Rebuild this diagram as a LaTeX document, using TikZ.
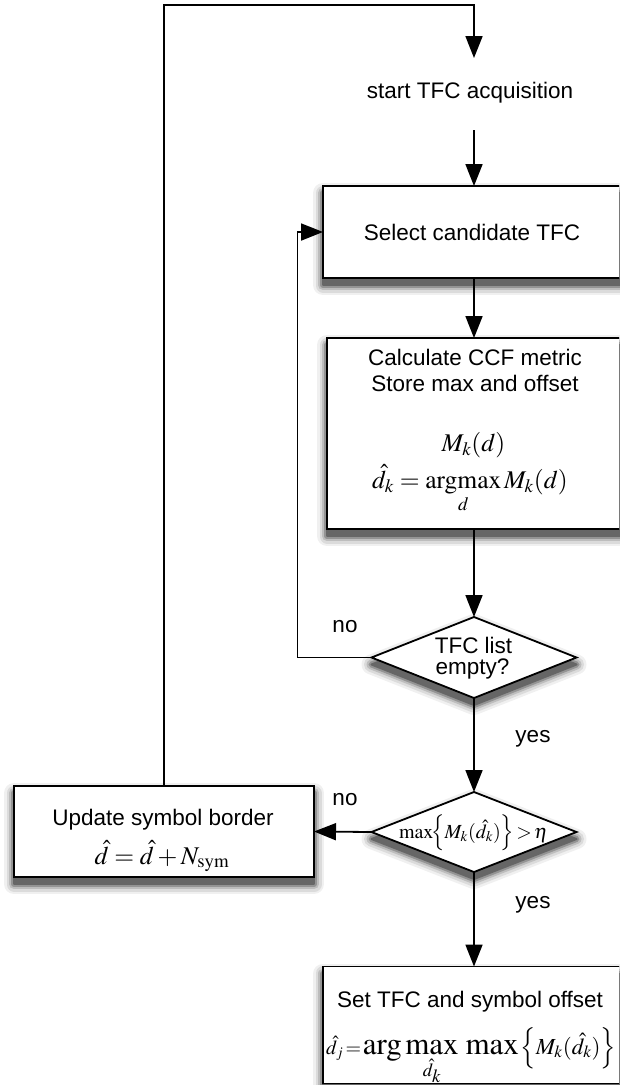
\documentclass[tikz,border=0pt]{standalone}
\usepackage{amsmath}
\usepackage{mathptmx}
\usepackage[no-math]{fontspec}
\setmainfont{Liberation Sans}
\usetikzlibrary{arrows.meta,shapes.geometric,backgrounds}

% soft drop shadow under a node, built from layered grey outlines
\newcommand\boxshadow[1]{%
  \begin{pgfonlayer}{background}
  \foreach \w/\c in {20/6,15/14,10/26,6/42,2/60}{
    \filldraw[black!\c, line width=\w pt, line join=round]
      ([yshift=-7pt]#1.south west) rectangle ([yshift=-7pt]#1.north east);
  }
  \end{pgfonlayer}}
\newcommand\diamondshadow[1]{%
  \begin{pgfonlayer}{background}
  \foreach \w/\c in {20/6,15/14,10/26,6/42,2/60}{
    \filldraw[black!\c, line width=\w pt, line join=round]
      ([yshift=-7pt]#1.north) -- ([yshift=-7pt]#1.east) --
      ([yshift=-7pt]#1.south) -- ([yshift=-7pt]#1.west) -- cycle;
  }
  \end{pgfonlayer}}

\begin{document}
\begin{tikzpicture}[x=1pt,y=-1pt,
  every node/.style={inner sep=0pt, outer sep=0pt},
  txt/.style={font=\fontsize{22.5}{26}\selectfont, anchor=base},
  mth/.style={font=\fontsize{25.5}{30}\selectfont, anchor=base},
  stepbox/.style={draw, line width=1.8pt, fill=white, rectangle},
  decision/.style={draw, line width=1.8pt, fill=white, diamond},
  flow/.style={line width=1.8pt, -{Triangle[length=22pt,width=17pt]}},
]
\useasboundingbox (0,0) rectangle (619,1085);
\clip (0,0) rectangle (619,1085);

% process boxes and decisions
\node[stepbox, minimum width=302pt, minimum height=92pt] (select) at (474,232) {};
\node[stepbox, minimum width=294pt, minimum height=191pt] (calc) at (474,433.5) {};
\node[decision, minimum width=205pt, minimum height=81pt] (dec1) at (474,657.5) {};
\node[decision, minimum width=205pt, minimum height=80pt] (dec2) at (474,832) {};
\node[stepbox, minimum width=300pt, minimum height=91pt] (update) at (164,831.5) {};
\node[stepbox, minimum width=302pt, minimum height=117pt] (setbox) at (474,1025) {};
\boxshadow{select}
\boxshadow{calc}
\diamondshadow{dec1}
\diamondshadow{dec2}
\boxshadow{update}
\boxshadow{setbox}

% texts
\node[txt] (start) at (470,98) {start TFC acquisition};
\node[txt] (selecttxt) at (472,240) {Select candidate TFC};
\node[txt] (calcA) at (475,365) {Calculate CCF metric};
\node[txt] (calcB) at (475,391) {Store max and offset};
\node[mth] (calcM) at (473.5,451) {$M_k(d)$};
\node[mth] (calcD) at (470,488) {$\hat d_k = \underset{d}{\mathrm{argmax}}\,M_k(d)$};
\node[txt] (decA) at (473.5,653) {TFC list};
\node[txt] (decB) at (472.5,674) {empty?};
\node[anchor=base, font=\fontsize{20}{24}\selectfont] (dec2txt) at (473.5,838)
  {$\max\!\Bigl\{M_k(\hat d_k)\Bigr\}\!>\!\eta$};
\node[txt] (updA) at (163,825) {Update symbol border};
\node[mth] (updB) at (162,864) {$\hat d = \hat d + N_{\mathrm{sym}}$};
\node[txt] (setA) at (470,1007) {Set TFC and symbol offset};
\node[anchor=base] (setB) at (471,1054)
  {{\fontsize{20}{24}\selectfont$\hat d_j\!=$}\,{\fontsize{31}{33}\selectfont$\mathrm{arg}\,\underset{\scriptscriptstyle\hat d_k}{\mathrm{max}}\,\max$}\,{\fontsize{23}{27}\selectfont$\Bigl\{M_k(\hat d_k)\Bigr\}$}};

% branch labels
\node[txt] (no1) at (345,632) {no};
\node[txt] (yes1) at (533,742) {yes};
\node[txt] (no2) at (345,805) {no};
\node[txt] (yes2) at (533,908) {yes};

% connectors
\coordinate (entry) at (474,58);
\coordinate (corner) at (474,5);
\coordinate (startout) at (474,130);
\draw[flow] (update.north) |- (corner) -- (entry);
\draw[flow] (startout) -- (select.north);
\draw[flow] (select) -- (calc);
\draw[flow] (calc) -- (dec1);
\draw[flow] (dec1.west) -- ++(-74,0) |- (select.west);
\draw[flow] (dec1) -- (dec2);
\draw[flow] (dec2.west) -- (update.east);
\draw[flow] (dec2) -- (setbox);
\end{tikzpicture}
\end{document}
